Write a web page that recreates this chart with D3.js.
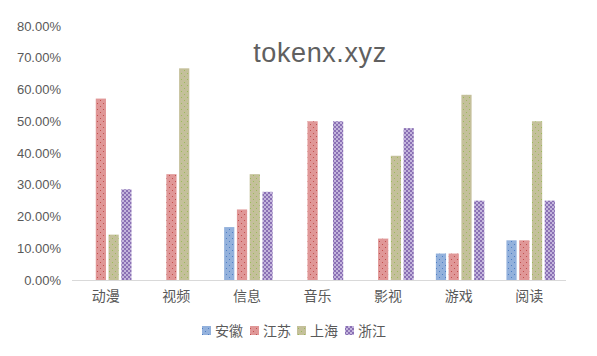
<!DOCTYPE html>
<html><head><meta charset="utf-8">
<script src="https://cdn.jsdelivr.net/npm/d3@7"></script>
<style>body{margin:0;background:#fff}svg{display:block}</style>
</head><body>
<script>
const categories = ["动漫","视频","信息","音乐","影视","游戏","阅读"];
const seriesNames = ["安徽","江苏","上海","浙江"];
const anhui   = [0, 0, 0.1667, 0, 0, 0.0833, 0.125];
const jiangsu = [0.5714, 0.3333, 0.2222, 0.5, 0.1304, 0.0833, 0.125];
const shanghai= [0.1429, 0.6667, 0.3333, 0, 0.3913, 0.5833, 0.5];
const zhejiang= [0.2857, 0, 0.2778, 0.5, 0.4783, 0.25, 0.25];
const yTicks = [0,0.1,0.2,0.3,0.4,0.5,0.6,0.7,0.8];
const title = "tokenx.xyz";

const W=597,H=356;
const svg=d3.select("body").append("svg").attr("width",W).attr("height",H);
const defs=svg.append("defs");
function dotPattern(id,bg,dot){
  const p=defs.append("pattern").attr("id",id).attr("patternUnits","userSpaceOnUse").attr("width",6).attr("height",6);
  p.append("rect").attr("width",6).attr("height",6).attr("fill",bg);
  p.append("rect").attr("x",1).attr("y",1).attr("width",1).attr("height",1).attr("fill",dot);
  p.append("rect").attr("x",4).attr("y",4).attr("width",1).attr("height",1).attr("fill",dot);
}
dotPattern("pA","#93b1dc","#4f7fc4");
dotPattern("pJ","#e09797","#c0504d");
dotPattern("pS","#c4c09a","#9bbb59");
const pz=defs.append("pattern").attr("id","pZ").attr("patternUnits","userSpaceOnUse").attr("width",4).attr("height",4);
pz.append("rect").attr("width",4).attr("height",4).attr("fill","#c3b5dc");
pz.append("rect").attr("x",0).attr("y",0).attr("width",2).attr("height",2).attr("fill","#8a70b4");
pz.append("rect").attr("x",2).attr("y",2).attr("width",2).attr("height",2).attr("fill","#8a70b4");
const fills=["url(#pA)","url(#pJ)","url(#pS)","url(#pZ)"];
const data=[anhui,jiangsu,shanghai,zhejiang];

const x=d3.scaleBand().domain(categories).range([72,566]).paddingInner(0).paddingOuter(0);
const xs=d3.scaleBand().domain(seriesNames).range([11,59.5]).paddingInner(0.2);
const y=d3.scaleLinear().domain([0,0.8]).range([280,26]);

svg.append("g").selectAll("text").data(yTicks).join("text")
  .attr("x",61).attr("y",d=>y(d)).attr("dy","0.35em").attr("text-anchor","end")
  .attr("font-family","Liberation Sans, Arial, sans-serif").attr("font-size",13).attr("fill","#595959")
  .text(d=>d3.format(".2%")(d));

const g=svg.append("g");
seriesNames.forEach((s,i)=>{
  g.append("g").selectAll("rect").data(categories).join("rect")
   .attr("x",(c)=>x(c)+xs(s)).attr("width",xs.bandwidth())
   .attr("y",(c,j)=>y(data[i][j])).attr("height",(c,j)=>y(0)-y(data[i][j]))
   .attr("fill",fills[i]);
});

svg.append("line").attr("x1",72).attr("x2",566).attr("y1",280.5).attr("y2",280.5).attr("stroke","#d9d9d9").attr("stroke-width",1);

svg.append("g").selectAll("text").data(categories).join("text")
  .attr("x",c=>x(c)+x.bandwidth()/2-1.5).attr("y",296).attr("dy","0.35em").attr("text-anchor","middle")
  .attr("font-family","Noto Sans CJK SC, sans-serif").attr("font-size",14).attr("fill","#595959")
  .text(d=>d);

svg.append("text").attr("x",320).attr("y",53).attr("dy","0.35em").attr("text-anchor","middle")
  .attr("font-family","Liberation Sans, Arial, sans-serif").attr("font-size",27).attr("fill","#606060")
  .attr("letter-spacing",0.6)
  .text(title);

const legX=[202,250,297,345];
const lg=svg.append("g");
seriesNames.forEach((s,i)=>{
  lg.append("rect").attr("x",legX[i]).attr("y",326).attr("width",9).attr("height",9).attr("fill",fills[i]);
  lg.append("text").attr("x",legX[i]+13).attr("y",331).attr("dy","0.35em")
    .attr("font-family","Noto Sans CJK SC, sans-serif").attr("font-size",14).attr("fill","#595959").text(s);
});
</script>
</body></html>
